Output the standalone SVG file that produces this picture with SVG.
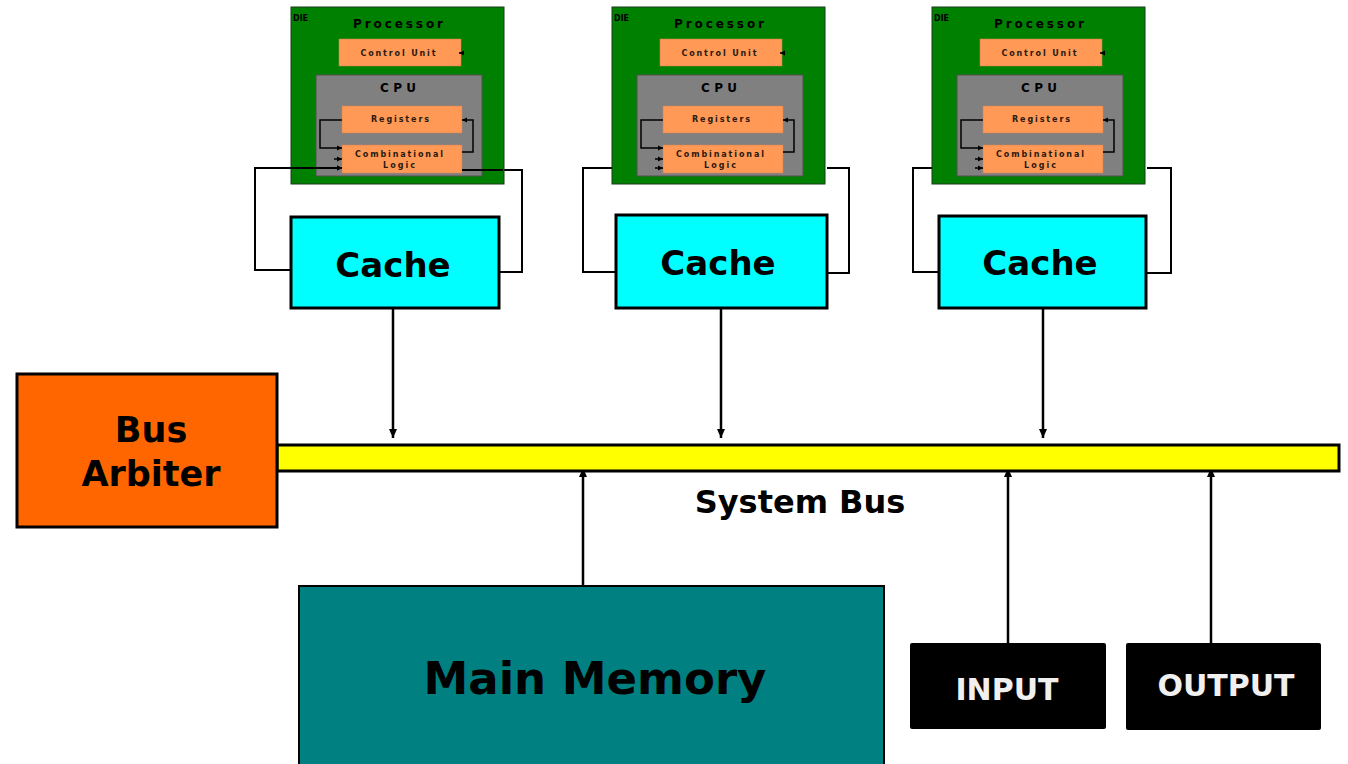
<svg xmlns="http://www.w3.org/2000/svg" width="1348" height="764" viewBox="0 0 1348 764">
<defs>
<style>
.t{font-family:"DejaVu Sans","Liberation Sans",sans-serif;font-weight:bold;fill:#000}
.s{fill:#2a1a10}
.die{fill:#008000;stroke:#1a3a1a;stroke-width:1}
.cpu{fill:#808080;stroke:#505050;stroke-width:1}
.unit{fill:#ff9955;stroke:#d08050;stroke-width:0.5}
.thin{fill:none;stroke:#000;stroke-width:1.5}
.cache{fill:#00ffff;stroke:#000;stroke-width:3}
.wire{fill:none;stroke:#000;stroke-width:2}
.arr{fill:none;stroke:#000;stroke-width:2.5}
</style>
<marker id="ah" markerUnits="userSpaceOnUse" markerWidth="10" markerHeight="10" refX="9" refY="5" orient="auto">
<path d="M0,1 L9,5 L0,9 Z" fill="#000"/>
</marker>
<marker id="sh" markerUnits="userSpaceOnUse" markerWidth="6" markerHeight="6" refX="5" refY="3" orient="auto">
<path d="M0,0.5 L5,3 L0,5.5 Z" fill="#000"/>
</marker>
<g id="dieTpl">
<rect class="die" x="0" y="7" width="213" height="177"/>
<text class="t" x="2" y="21" font-size="8">DIE</text>
<text class="t" x="107" y="28" font-size="12" text-anchor="middle" textLength="90" lengthAdjust="spacing">Processor</text>
<rect class="unit" x="48" y="39" width="122" height="27"/>
<text class="t s" x="107" y="56" font-size="8" text-anchor="middle" textLength="75" lengthAdjust="spacing">Control Unit</text>
<path class="thin" d="M172,53 H168" marker-end="url(#sh)"/>
<rect class="cpu" x="25" y="75" width="166" height="101"/>
<text class="t" x="107" y="92" font-size="12" text-anchor="middle" textLength="36" lengthAdjust="spacing">CPU</text>
<rect class="unit" x="51" y="106" width="120" height="27"/>
<text class="t s" x="109" y="122" font-size="8" text-anchor="middle" textLength="58" lengthAdjust="spacing">Registers</text>
<rect class="unit" x="51" y="145" width="120" height="28"/>
<text class="t s" x="108" y="157" font-size="8" text-anchor="middle" textLength="88" lengthAdjust="spacing">Combinational</text>
<text class="t s" x="108" y="168" font-size="8" text-anchor="middle" textLength="32" lengthAdjust="spacing">Logic</text>
<path class="thin" d="M51,120 H29 V148 H51" marker-end="url(#sh)"/>
<path class="thin" d="M171,152 H182 V120 H171" marker-end="url(#sh)"/>
<path class="thin" d="M43,159 H51" marker-end="url(#sh)"/>
<path class="thin" d="M43,168 H51" marker-end="url(#sh)"/>
</g>
</defs>
<rect x="0" y="0" width="1348" height="764" fill="#fff"/>

<g id="connectors">
<path class="wire" d="M291,270 H255 V168 H342" marker-end="url(#sh)"/>
<path class="wire" d="M462,170 H522 V272 H500"/>
<path class="wire" d="M616,272 H583 V168 H612"/>
<path class="wire" d="M827,168 H849 V273 H827"/>
<path class="wire" d="M939,272 H913 V168 H932"/>
<path class="wire" d="M1147,168 H1171 V273 H1146"/>
<path class="arr" d="M393,309 V438" marker-end="url(#ah)"/>
<path class="arr" d="M721,309 V438" marker-end="url(#ah)"/>
<path class="arr" d="M1043,309 V438" marker-end="url(#ah)"/>
<path class="arr" d="M583,594 V468" marker-end="url(#ah)"/>
<path class="arr" d="M1008,643 V468" marker-end="url(#ah)"/>
<path class="arr" d="M1211,643 V468" marker-end="url(#ah)"/>
</g>

<g id="die1"><use href="#dieTpl" transform="translate(291,0)"/></g>
<g id="die2"><use href="#dieTpl" transform="translate(612,0)"/></g>
<g id="die3"><use href="#dieTpl" transform="translate(932,0)"/></g>
<path class="wire" d="M255,168 H342" marker-end="url(#sh)"/>
<path class="wire" d="M462,170 H503"/>

<g id="cache1"><rect class="cache" x="291" y="217" width="208" height="91"/>
<text class="t" x="393" y="277" font-size="34" text-anchor="middle">Cache</text></g>
<g id="cache2"><rect class="cache" x="616" y="215" width="211" height="93"/>
<text class="t" x="718" y="275" font-size="34" text-anchor="middle">Cache</text></g>
<g id="cache3"><rect class="cache" x="939" y="216" width="207" height="92"/>
<text class="t" x="1040" y="275" font-size="34" text-anchor="middle">Cache</text></g>

<g id="bus"><rect x="277" y="445" width="1062" height="26" fill="#ffff00" stroke="#000" stroke-width="3"/>
<text class="t" x="800" y="513" font-size="32" text-anchor="middle">System Bus</text></g>

<g id="arbiter"><rect x="17" y="374" width="260" height="153" fill="#ff6600" stroke="#000" stroke-width="3"/>
<text class="t" x="151" y="442" font-size="35" text-anchor="middle">Bus</text>
<text class="t" x="151" y="486" font-size="35" text-anchor="middle">Arbiter</text></g>

<g id="memory"><rect x="299" y="586" width="585" height="190" fill="#008080" stroke="#000" stroke-width="2"/>
<text class="t" x="595" y="694" font-size="45" text-anchor="middle">Main Memory</text></g>

<g id="input"><rect x="910" y="643" width="196" height="86" rx="2" fill="#000"/>
<text class="t" x="1007" y="700" font-size="30" text-anchor="middle" style="fill:#f0f0f0">INPUT</text></g>
<g id="output"><rect x="1126" y="643" width="195" height="87" rx="2" fill="#000"/>
<text class="t" x="1226" y="696" font-size="30" text-anchor="middle" style="fill:#f0f0f0">OUTPUT</text></g>
</svg>
